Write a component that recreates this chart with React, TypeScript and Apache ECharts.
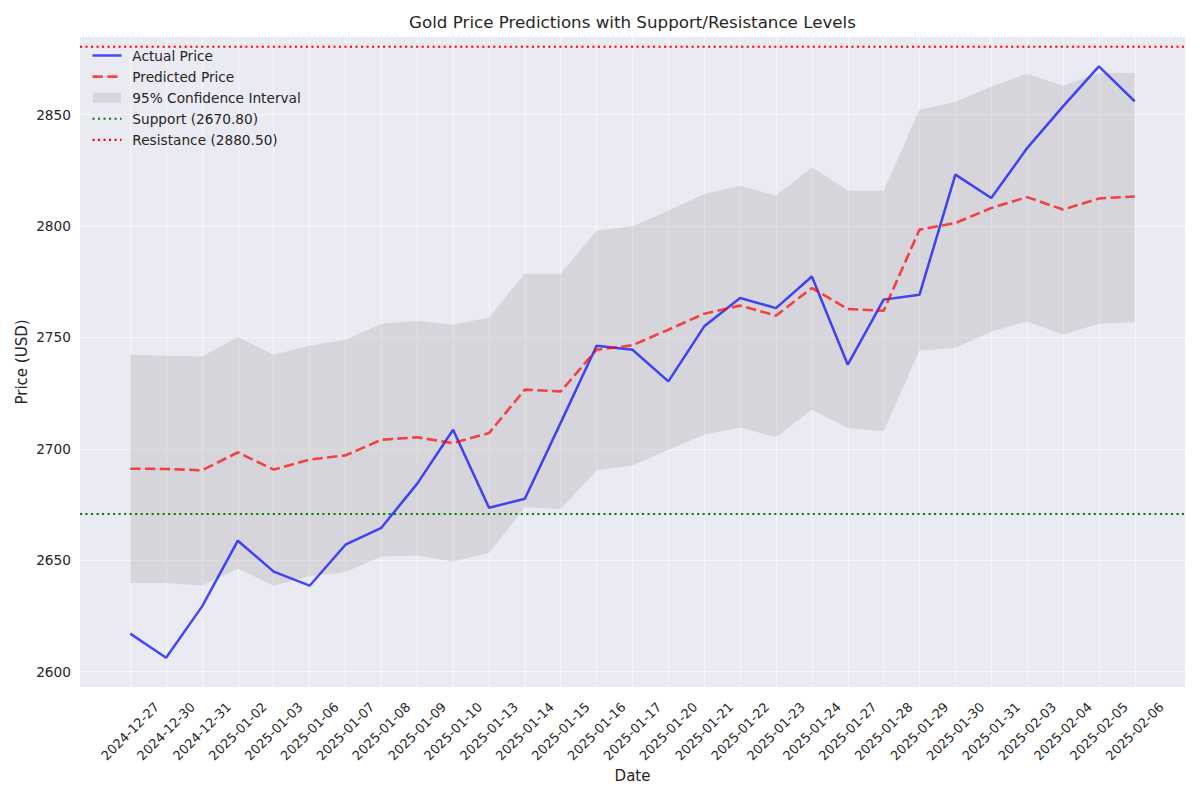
import React, { useEffect, useRef } from 'react';
import * as echarts from 'echarts';

const dates = [
  '2024-12-27', '2024-12-30', '2024-12-31', '2025-01-02', '2025-01-03', '2025-01-06',
  '2025-01-07', '2025-01-08', '2025-01-09', '2025-01-10', '2025-01-13', '2025-01-14',
  '2025-01-15', '2025-01-16', '2025-01-17', '2025-01-20', '2025-01-21', '2025-01-22',
  '2025-01-23', '2025-01-24', '2025-01-27', '2025-01-28', '2025-01-29', '2025-01-30',
  '2025-01-31', '2025-02-03', '2025-02-04', '2025-02-05', '2025-02-06',
];

const actualPrice = [
  2617.1, 2606.3, 2629.2, 2658.8, 2644.9, 2638.6, 2657.0, 2664.6, 2684.4, 2708.6,
  2673.6, 2677.6, 2711.8, 2746.3, 2744.5, 2730.3, 2755.0, 2767.7, 2763.2, 2777.4,
  2737.8, 2767.0, 2769.2, 2823.1, 2812.6, 2835.0, 2853.7, 2871.7, 2856.0,
];

const predictedPrice = [
  2691.1, 2691.0, 2690.4, 2698.4, 2690.7, 2695.2, 2697.1, 2704.1, 2705.2, 2702.6,
  2707.1, 2726.6, 2725.8, 2744.5, 2746.5, 2753.5, 2760.7, 2764.3, 2759.8, 2772.2,
  2762.8, 2762.0, 2798.4, 2801.4, 2808.1, 2813.0, 2807.4, 2812.4, 2813.3,
];

const upperBound = [
  2742.3, 2741.8, 2741.5, 2750.2, 2742.3, 2746.3, 2749.0, 2756.2, 2757.5, 2755.7,
  2759.0, 2778.6, 2778.6, 2797.9, 2799.9, 2806.9, 2814.4, 2818.1, 2813.6, 2826.4,
  2816.0, 2815.9, 2852.2, 2855.7, 2862.7, 2868.4, 2863.0, 2868.7, 2868.7,
];

const lowerBound = [
  2639.8, 2639.8, 2638.7, 2646.2, 2638.6, 2642.8, 2644.7, 2651.7, 2652.2, 2649.5,
  2653.3, 2673.8, 2673.0, 2690.4, 2692.6, 2699.6, 2706.4, 2709.6, 2705.3, 2717.6,
  2709.4, 2707.9, 2744.2, 2745.3, 2752.7, 2757.2, 2751.3, 2756.2, 2756.8,
];

const supportLevel = 2670.8;
const resistanceLevel = 2880.5;

const yMin = 2593.0;
const yMax = 2885.0;

const FONT = 'DejaVu Sans';
const TEXT = '#262626';

// layout (pixels)
const PLOT_L = 80;
const PLOT_R = 1185;
const PLOT_T = 36.7;
const PLOT_B = 687.3;
const UNIT = (PLOT_R - PLOT_L) / (dates.length - 1 + 2.8);
const DATA_L = PLOT_L + 1.4 * UNIT;
const DATA_R = PLOT_R - 1.4 * UNIT;

const gridColor = 'rgba(255,255,255,0.5)';

export default function App() {
  const ref = useRef<HTMLDivElement>(null);

  useEffect(() => {
    document.body.style.margin = '0';
    const chart = echarts.init(ref.current!, null, { renderer: 'svg' });

    const bandDiff = upperBound.map((u, i) => +(u - lowerBound[i]).toFixed(2));

    const legendRows = [
      { name: 'Actual Price', kind: 'line', color: 'rgba(0,0,255,0.7)', width: 2.5, dash: null },
      { name: 'Predicted Price', kind: 'line', color: 'rgba(255,0,0,0.7)', width: 2.6, dash: [10.3, 4.45] },
      { name: '95% Confidence Interval', kind: 'rect', color: 'rgba(128,128,128,0.2)', width: 0, dash: null },
      { name: `Support (${supportLevel.toFixed(2)})`, kind: 'line', color: '#008000', width: 2.08, dash: [2.08, 3.43] },
      { name: `Resistance (${resistanceLevel.toFixed(2)})`, kind: 'line', color: '#ff0000', width: 2.08, dash: [2.08, 3.43] },
    ];

    const legendGraphics: any[] = [];
    legendRows.forEach((r, i) => {
      const cy = 55.5 + i * 21.1;
      if (r.kind === 'line') {
        legendGraphics.push({
          type: 'line',
          z: 100,
          shape: { x1: 92.5, y1: cy, x2: 121.5, y2: cy },
          style: { stroke: r.color, lineWidth: r.width, lineDash: r.dash || undefined },
        });
      } else {
        legendGraphics.push({
          type: 'rect',
          z: 100,
          shape: { x: 93, y: cy - 5, width: 28, height: 10 },
          style: { fill: r.color },
        });
      }
      legendGraphics.push({
        type: 'text',
        z: 100,
        x: 132.3,
        y: cy,
        style: {
          text: r.name,
          fontSize: 13.7,
          fontFamily: FONT,
          fill: TEXT,
          align: 'left',
          verticalAlign: 'middle',
        },
      });
    });

    const option: any = {
      animation: false,
      backgroundColor: '#ffffff',
      textStyle: { fontFamily: FONT },
      grid: [
        {
          left: DATA_L,
          right: 1200 - DATA_R,
          top: PLOT_T,
          height: PLOT_B - PLOT_T,
          containLabel: false,
        },
        {
          left: PLOT_L,
          right: 1200 - PLOT_R,
          top: PLOT_T,
          height: PLOT_B - PLOT_T,
          show: true,
          backgroundColor: '#EAEAF2',
          borderWidth: 0,
          containLabel: false,
        },
      ],
      xAxis: [
        {
          type: 'category',
          gridIndex: 0,
          data: dates,
          boundaryGap: false,
          axisLine: { show: false },
          axisTick: { show: false },
          axisLabel: {
            interval: 0,
            rotate: 45,
            align: 'center',
            verticalAlign: 'middle',
            margin: 44,
            fontSize: 13,
            fontFamily: FONT,
            color: TEXT,
          },
          splitLine: { show: true, interval: 0, lineStyle: { color: gridColor, width: 1.2 } },
        },
        {
          type: 'value',
          gridIndex: 1,
          min: 0,
          max: 1,
          show: false,
        },
      ],
      yAxis: [
        {
          type: 'value',
          gridIndex: 0,
          min: yMin,
          max: yMax,
          show: false,
          splitLine: { show: false },
        },
        {
          type: 'value',
          gridIndex: 1,
          min: yMin,
          max: yMax,
          axisLine: { show: false },
          axisTick: { show: false },
          axisLabel: {
            margin: 9,
            fontSize: 13.7,
            fontFamily: FONT,
            color: TEXT,
            showMinLabel: false,
            showMaxLabel: false,
            formatter: (v: number) => (Math.abs(v % 50) < 1e-6 ? String(Math.round(v)) : ''),
          },
          splitLine: { show: true, lineStyle: { color: gridColor, width: 1.2 } },
        },
      ],
      series: [
        {
          name: 'CI lower',
          type: 'line',
          xAxisIndex: 0,
          yAxisIndex: 0,
          data: lowerBound,
          stack: 'ci',
          symbol: 'none',
          silent: true,
          lineStyle: { opacity: 0 },
          z: 1,
        },
        {
          name: '95% Confidence Interval',
          type: 'line',
          xAxisIndex: 0,
          yAxisIndex: 0,
          data: bandDiff,
          stack: 'ci',
          symbol: 'none',
          silent: true,
          color: 'rgba(128,128,128,0.2)',
          lineStyle: { opacity: 0 },
          areaStyle: { color: 'rgba(128,128,128,0.2)', opacity: 1 },
          z: 1,
        },
        {
          name: `Support (${supportLevel.toFixed(2)})`,
          type: 'line',
          xAxisIndex: 1,
          yAxisIndex: 1,
          data: [[0, supportLevel], [1, supportLevel]],
          symbol: 'none',
          lineStyle: { color: '#008000', width: 2.08, type: [2.08, 3.43], cap: 'butt' },
          z: 2,
        },
        {
          name: `Resistance (${resistanceLevel.toFixed(2)})`,
          type: 'line',
          xAxisIndex: 1,
          yAxisIndex: 1,
          data: [[0, resistanceLevel], [1, resistanceLevel]],
          symbol: 'none',
          lineStyle: { color: '#ff0000', width: 2.08, type: [2.08, 3.43], cap: 'butt' },
          z: 2,
        },
        {
          name: 'Actual Price',
          type: 'line',
          xAxisIndex: 0,
          yAxisIndex: 0,
          data: actualPrice,
          symbol: 'none',
          lineStyle: { color: 'rgba(0,0,255,0.7)', width: 2.5 },
          z: 3,
        },
        {
          name: 'Predicted Price',
          type: 'line',
          xAxisIndex: 0,
          yAxisIndex: 0,
          data: predictedPrice,
          symbol: 'none',
          lineStyle: { color: 'rgba(255,0,0,0.7)', width: 2.6, type: [10.3, 4.45] },
          z: 3,
        },
      ],
      graphic: [
        {
          type: 'text',
          x: (PLOT_L + PLOT_R) / 2,
          y: 22,
          style: {
            text: 'Gold Price Predictions with Support/Resistance Levels',
            fontSize: 16.7,
            fontFamily: FONT,
            fill: TEXT,
            align: 'center',
            verticalAlign: 'middle',
          },
        },
        {
          type: 'text',
          x: (PLOT_L + PLOT_R) / 2,
          y: 776,
          style: {
            text: 'Date',
            fontSize: 15,
            fontFamily: FONT,
            fill: TEXT,
            align: 'center',
            verticalAlign: 'middle',
          },
        },
        {
          type: 'text',
          x: 22,
          y: (PLOT_T + PLOT_B) / 2,
          rotation: Math.PI / 2,
          style: {
            text: 'Price (USD)',
            fontSize: 15,
            fontFamily: FONT,
            fill: TEXT,
            align: 'center',
            verticalAlign: 'middle',
          },
        },
        ...legendGraphics,
      ],
    };

    chart.setOption(option);
    return () => chart.dispose();
  }, []);

  return <div ref={ref} style={{ width: 1200, height: 800 }} />;
}
